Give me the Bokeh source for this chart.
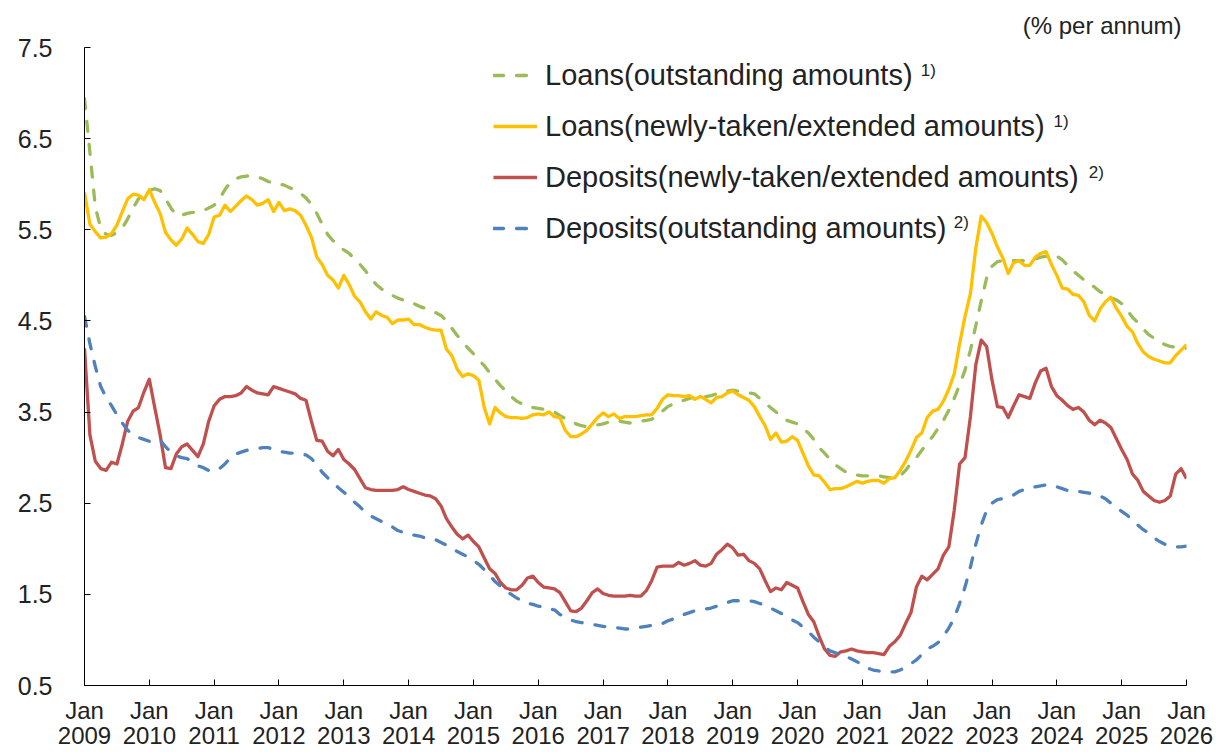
from bokeh.plotting import figure
from bokeh.models import FixedTicker, Legend, LegendItem, Range1d, ColumnDataSource, Label
from bokeh.embed import file_html
from bokeh.resources import INLINE

tick_years = [2009, 2010, 2011, 2012, 2013, 2014, 2015, 2016, 2017, 2018,
              2019, 2020, 2021, 2022, 2023, 2024, 2025, 2026]

# monthly values, Jan 2009 .. Jan 2026
loans_outstanding = [
    6.94, 6.35, 5.75, 5.52, 5.45, 5.44, 5.47, 5.52, 5.62, 5.74, 5.84, 5.90,
    5.93, 5.95, 5.93, 5.84, 5.74, 5.66, 5.66, 5.68, 5.69, 5.70, 5.71, 5.74,
    5.77, 5.84, 5.94, 6.02, 6.06, 6.08, 6.09, 6.09, 6.08, 6.06, 6.03, 6.01,
    6.00, 5.99, 5.96, 5.94, 5.90, 5.85, 5.78, 5.68, 5.56, 5.45, 5.38, 5.33,
    5.28, 5.24, 5.18, 5.12, 5.05, 4.97, 4.90, 4.85, 4.81, 4.78, 4.75, 4.73,
    4.72, 4.69, 4.66, 4.64, 4.62, 4.59, 4.56, 4.50, 4.42, 4.34, 4.27, 4.20,
    4.14, 4.07, 4.01, 3.93, 3.86, 3.79, 3.73, 3.67, 3.62, 3.59, 3.56, 3.55,
    3.54, 3.53, 3.52, 3.50, 3.46, 3.43, 3.40, 3.37, 3.35, 3.34, 3.35, 3.36,
    3.37, 3.39, 3.40, 3.40, 3.39, 3.38, 3.39, 3.40, 3.41, 3.42, 3.46, 3.51,
    3.56, 3.59, 3.61, 3.63, 3.65, 3.67, 3.67, 3.67, 3.68, 3.70, 3.71, 3.73,
    3.74, 3.73, 3.72, 3.71, 3.70, 3.65, 3.60, 3.55, 3.50, 3.45, 3.41, 3.39,
    3.37, 3.32, 3.27, 3.20, 3.11, 3.05, 2.98, 2.92, 2.88, 2.84, 2.82, 2.81,
    2.80, 2.80, 2.80, 2.80, 2.79, 2.78, 2.78, 2.80, 2.86, 2.94, 3.00, 3.08,
    3.16, 3.23, 3.32, 3.41, 3.52, 3.65, 3.80, 3.96, 4.18, 4.45, 4.72, 4.97,
    5.10, 5.15, 5.16, 5.16, 5.16, 5.16, 5.16, 5.17, 5.18, 5.20, 5.21, 5.22,
    5.21, 5.17, 5.11, 5.05, 5.00, 4.95, 4.91, 4.87, 4.82, 4.79, 4.76, 4.73,
    4.69, 4.62, 4.54, 4.48, 4.41, 4.35, 4.31, 4.27, 4.24, 4.22, 4.21, 4.20,
    4.20,
]

loans_new = [
    5.91, 5.56, 5.48, 5.41, 5.42, 5.46, 5.55, 5.70, 5.84, 5.89, 5.88, 5.83,
    5.94, 5.80, 5.68, 5.47, 5.39, 5.33, 5.40, 5.52, 5.45, 5.37, 5.35, 5.45,
    5.64, 5.66, 5.77, 5.70, 5.76, 5.82, 5.87, 5.83, 5.77, 5.79, 5.83, 5.70,
    5.80, 5.71, 5.73, 5.71, 5.66, 5.55, 5.42, 5.20, 5.12, 5.00, 4.95, 4.86,
    5.00, 4.90, 4.77, 4.71, 4.60, 4.52, 4.60, 4.56, 4.54, 4.47, 4.51, 4.51,
    4.52, 4.46, 4.46, 4.43, 4.41, 4.40, 4.40, 4.19, 4.12, 3.97, 3.89, 3.92,
    3.90, 3.85, 3.55, 3.37, 3.55, 3.49, 3.45, 3.44, 3.44, 3.43, 3.44, 3.47,
    3.48, 3.47, 3.50, 3.45, 3.44, 3.30, 3.23, 3.23, 3.26, 3.30, 3.37, 3.44,
    3.49, 3.45, 3.48, 3.43, 3.45, 3.45, 3.45, 3.46, 3.47, 3.47, 3.54, 3.64,
    3.69, 3.68, 3.68, 3.67, 3.68, 3.64, 3.67, 3.64, 3.60, 3.66, 3.67, 3.71,
    3.73, 3.69, 3.66, 3.63, 3.56, 3.45, 3.35, 3.20, 3.27, 3.17, 3.18, 3.23,
    3.19, 3.05, 2.91, 2.81, 2.80, 2.73, 2.65, 2.66, 2.66, 2.68, 2.71, 2.74,
    2.72, 2.74, 2.75, 2.75, 2.72, 2.77, 2.78, 2.86, 2.96, 3.08, 3.22, 3.27,
    3.44, 3.51, 3.53, 3.62, 3.75, 3.92, 4.25, 4.55, 4.80, 5.30, 5.65, 5.58,
    5.46, 5.31, 5.19, 5.02, 5.14, 5.16, 5.11, 5.11, 5.20, 5.24, 5.26, 5.12,
    5.00, 4.86, 4.85, 4.79, 4.78, 4.71, 4.56, 4.50, 4.63, 4.71, 4.76, 4.64,
    4.55, 4.44, 4.38, 4.25, 4.16, 4.11, 4.08, 4.06, 4.04, 4.04, 4.12, 4.18,
    4.24,
]

deposits_new = [
    4.20, 3.25, 2.96, 2.88, 2.86, 2.95, 2.93, 3.15, 3.40, 3.51, 3.55, 3.72,
    3.86, 3.55, 3.25, 2.89, 2.88, 3.04, 3.12, 3.15, 3.08, 3.01, 3.15, 3.40,
    3.57, 3.64, 3.67, 3.67, 3.68, 3.71, 3.78, 3.74, 3.71, 3.70, 3.69, 3.78,
    3.76, 3.74, 3.72, 3.70, 3.65, 3.63, 3.40, 3.19, 3.18, 3.07, 3.02, 3.09,
    2.98, 2.93, 2.87, 2.77, 2.67, 2.65, 2.64, 2.64, 2.64, 2.64, 2.65, 2.68,
    2.65, 2.63, 2.61, 2.59, 2.58, 2.55, 2.47, 2.33, 2.24, 2.16, 2.11, 2.15,
    2.08, 2.02, 1.90, 1.78, 1.73, 1.63, 1.57, 1.55, 1.55, 1.60, 1.68, 1.70,
    1.63, 1.58, 1.57, 1.56, 1.52, 1.42, 1.32, 1.31, 1.35, 1.43, 1.52, 1.56,
    1.51, 1.49, 1.48, 1.48, 1.48, 1.49, 1.48, 1.48, 1.54, 1.65, 1.80, 1.81,
    1.81, 1.81, 1.85, 1.82, 1.84, 1.87, 1.82, 1.81, 1.84, 1.94, 1.99, 2.05,
    2.01, 1.93, 1.94, 1.87, 1.84, 1.78, 1.65, 1.53, 1.57, 1.55, 1.63, 1.60,
    1.57, 1.42, 1.28, 1.20, 1.04, 0.90, 0.83, 0.82, 0.87, 0.88, 0.90, 0.88,
    0.87, 0.86, 0.86, 0.85, 0.84, 0.93, 0.98, 1.05, 1.18, 1.30, 1.58, 1.70,
    1.66, 1.72, 1.78, 1.93, 2.02, 2.42, 2.93, 3.00, 3.45, 4.02, 4.29, 4.22,
    3.85, 3.56, 3.55, 3.44, 3.57, 3.69, 3.67, 3.65, 3.82, 3.95, 3.98, 3.78,
    3.68, 3.63, 3.57, 3.53, 3.55, 3.50, 3.41, 3.36, 3.41, 3.38, 3.33, 3.21,
    3.09, 2.98, 2.82, 2.75, 2.63, 2.58, 2.53, 2.51, 2.53, 2.58, 2.82, 2.88,
    2.77,
]

deposits_outstanding = [
    4.55, 4.25, 4.00, 3.78, 3.66, 3.57, 3.47, 3.38, 3.30, 3.25, 3.22, 3.20,
    3.18, 3.18, 3.19, 3.12, 3.06, 3.02, 3.00, 2.99, 2.95, 2.91, 2.89, 2.86,
    2.85, 2.88, 2.93, 3.00, 3.04, 3.06, 3.08, 3.09, 3.10, 3.11, 3.11, 3.09,
    3.07, 3.06, 3.05, 3.05, 3.04, 3.03, 2.99, 2.92, 2.84, 2.78, 2.72, 2.67,
    2.62, 2.57, 2.51, 2.46, 2.40, 2.36, 2.33, 2.30, 2.28, 2.24, 2.20, 2.18,
    2.16, 2.15, 2.14, 2.12, 2.11, 2.10, 2.07, 2.04, 2.00, 1.97, 1.94, 1.91,
    1.87, 1.83, 1.77, 1.71, 1.64, 1.59, 1.54, 1.50, 1.46, 1.43, 1.40, 1.39,
    1.37, 1.36, 1.34, 1.33, 1.28, 1.25, 1.22, 1.20, 1.19, 1.18, 1.17, 1.16,
    1.15, 1.14, 1.14, 1.13, 1.12, 1.12, 1.13, 1.14, 1.15, 1.16, 1.17, 1.18,
    1.21, 1.23, 1.26, 1.28, 1.30, 1.32, 1.33, 1.34, 1.35, 1.37, 1.39, 1.41,
    1.43, 1.43, 1.43, 1.43, 1.42, 1.40, 1.38, 1.35, 1.32, 1.29, 1.26, 1.22,
    1.19, 1.14, 1.09, 1.03, 0.98, 0.92, 0.88, 0.86, 0.84, 0.82, 0.79, 0.76,
    0.73, 0.69, 0.67, 0.66, 0.65, 0.65, 0.65, 0.67, 0.70, 0.74, 0.78, 0.84,
    0.90, 0.93, 0.97, 1.04, 1.13, 1.24, 1.40, 1.58, 1.80, 2.05, 2.26, 2.42,
    2.50, 2.54, 2.55, 2.57, 2.59, 2.63, 2.65, 2.67, 2.68, 2.69, 2.70, 2.70,
    2.68, 2.66, 2.64, 2.63, 2.63, 2.62, 2.61, 2.60, 2.58, 2.55, 2.50, 2.46,
    2.41, 2.37, 2.31, 2.26, 2.21, 2.17, 2.12, 2.08, 2.05, 2.03, 2.02, 2.02,
    2.03,
]

y_ticks = [0.5, 1.5, 2.5, 3.5, 4.5, 5.5, 6.5, 7.5]

labels = [
    "Loans(outstanding amounts)",
    "Loans(newly-taken/extended amounts)",
    "Deposits(newly-taken/extended amounts)",
    "Deposits(outstanding amounts)",
]
notes = ["1)", "1)", "2)", "2)"]
# note anchor positions (month index, value) beside each legend label
note_x = [154.8, 179.4, 185.9, 160.9]
note_y = [7.245, 6.686, 6.128, 5.58]

colors = ["#9BBB59", "#FFC000", "#C0504D", "#4F81BD"]
dashes = ["10 13", "solid", "solid", "10 13"]

n = len(loans_outstanding)
months = list(range(n))
src = ColumnDataSource(dict(
    m=months,
    lo=loans_outstanding,
    ln=loans_new,
    dn=deposits_new,
    do=deposits_outstanding,
))

FONT = "Liberation Sans"
TXT = "#222222"

p = figure(width=1216, height=752, output_backend="svg", toolbar_location=None,
           x_range=Range1d(0, n - 1), y_range=Range1d(0.5, 7.5),
           min_border_left=84, min_border_right=30, min_border_top=47,
           min_border_bottom=66)
p.outline_line_color = None
p.xgrid.visible = False
p.ygrid.visible = False
p.background_fill_color = "white"

p.title.text = "(% per annum)"
p.title.align = "right"
p.title.offset = 5
p.title.standoff = 18
p.title.text_font = FONT
p.title.text_font_size = "24px"
p.title.text_font_style = "normal"
p.title.text_color = TXT

renderers = []
for col, c, d in zip(["lo", "ln", "dn", "do"], colors, dashes):
    r = p.line("m", col, source=src, line_color=c, line_width=3.3,
               line_dash=d, line_cap="round" if d != "solid" else "butt",
               line_join="round")
    renderers.append(r)

xa = p.xaxis[0]
xa.ticker = FixedTicker(ticks=[12 * i for i in range(len(tick_years))])
xa.major_label_overrides = {12 * i: "Jan\n%d" % y for i, y in enumerate(tick_years)}
xa.major_tick_in = 6
xa.major_tick_out = 0
xa.minor_tick_line_color = None
xa.major_label_standoff = 11
xa.major_label_text_font = FONT
xa.major_label_text_font_size = "24px"
xa.major_label_text_line_height = 0.95
xa.major_label_text_color = TXT
xa.axis_line_color = "#000000"
xa.major_tick_line_color = "#000000"

ya = p.yaxis[0]
ya.ticker = FixedTicker(ticks=y_ticks)
ya.major_tick_in = 6
ya.major_tick_out = 0
ya.minor_tick_line_color = None
ya.major_label_standoff = 32
ya.major_label_text_font = FONT
ya.major_label_text_font_size = "25px"
ya.major_label_text_color = TXT
ya.axis_line_color = "#000000"
ya.major_tick_line_color = "#000000"

items = [LegendItem(label=l, renderers=[r]) for l, r in zip(labels, renderers)]
legend = Legend(items=items, location=(409, 436))
legend.label_text_font = FONT
legend.label_text_font_size = "29px"
legend.label_text_color = TXT
legend.label_height = 42
legend.glyph_height = 42
legend.glyph_width = 44
legend.label_standoff = 8
legend.spacing = 9
legend.padding = 0
legend.margin = 0
legend.border_line_color = None
legend.background_fill_alpha = 0
p.add_layout(legend, "center")

for t, xx, yy in zip(notes, note_x, note_y):
    p.add_layout(Label(x=xx, y=yy, text=t, text_font=FONT, text_font_size="17px",
                       text_color=TXT, text_baseline="middle", text_align="left"))

open("out.html", "w").write(file_html(p, INLINE))
